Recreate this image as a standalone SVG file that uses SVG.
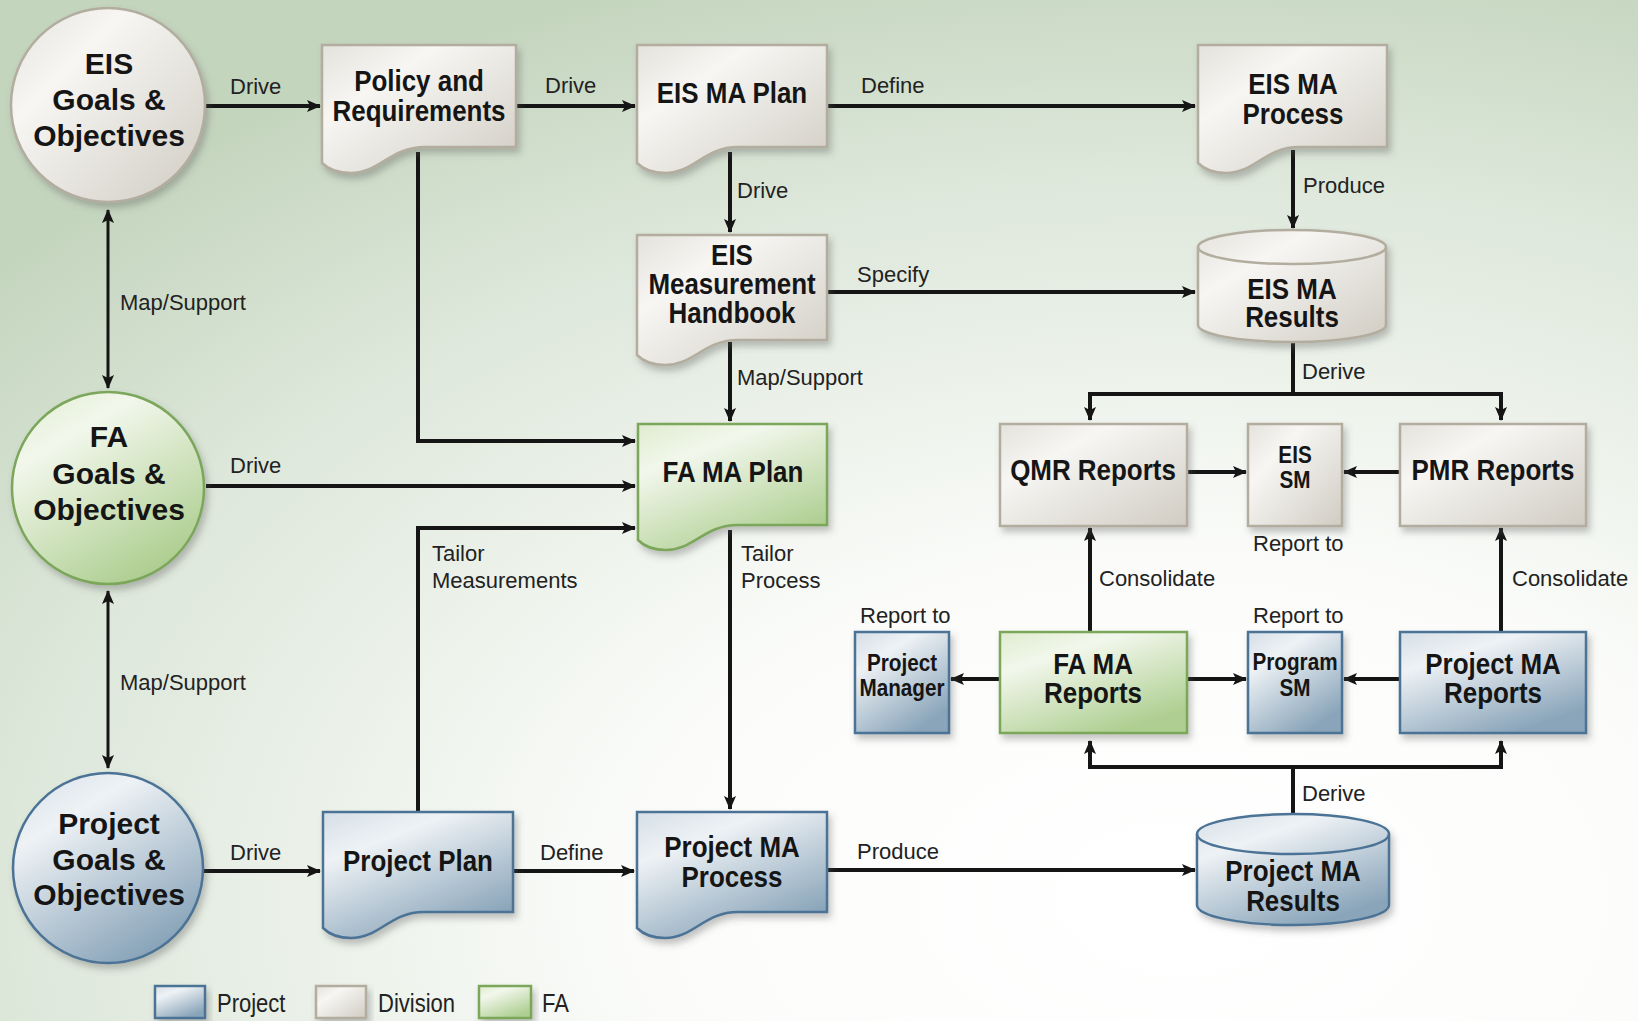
<svg xmlns="http://www.w3.org/2000/svg" width="1638" height="1021" viewBox="0 0 1638 1021">
<defs>
  <radialGradient id="bg" cx="0.72" cy="0.88" r="0.95">
    <stop offset="0" stop-color="#ffffff"/>
    <stop offset="0.35" stop-color="#fbfcfa"/>
    <stop offset="0.75" stop-color="#dde7da"/>
    <stop offset="1" stop-color="#c4d5be"/>
  </radialGradient>
  <linearGradient id="gDiv" x1="0" y1="0" x2="1" y2="1">
    <stop offset="0" stop-color="#e4e2dc"/>
    <stop offset="0.3" stop-color="#f7f6f3"/>
    <stop offset="1" stop-color="#d0ccc3"/>
  </linearGradient>
  <linearGradient id="gProj" x1="0" y1="0" x2="0.6" y2="1">
    <stop offset="0" stop-color="#d5dfe7"/>
    <stop offset="0.3" stop-color="#eef2f5"/>
    <stop offset="1" stop-color="#8aa5ba"/>
  </linearGradient>
  <linearGradient id="gFA" x1="0" y1="0" x2="0.6" y2="1">
    <stop offset="0" stop-color="#dfeccf"/>
    <stop offset="0.3" stop-color="#f2f7ec"/>
    <stop offset="1" stop-color="#afcf92"/>
  </linearGradient>
  <filter id="sh" x="-10%" y="-10%" width="125%" height="130%">
    <feDropShadow dx="3" dy="5" stdDeviation="3.5" flood-color="#555" flood-opacity="0.35"/>
  </filter>
  <marker id="ah" viewBox="0 0 14 12" refX="13" refY="6" markerWidth="14" markerHeight="12" markerUnits="userSpaceOnUse" orient="auto-start-reverse">
    <path d="M0,0 L14,6 L0,12 L3,6 Z" fill="#151515"/>
  </marker>
</defs>
<style>
  .div{fill:url(#gDiv);stroke:#b3ad9f;stroke-width:2.5;filter:url(#sh)}
  .proj{fill:url(#gProj);stroke:#4c7396;stroke-width:2.5;filter:url(#sh)}
  .fa{fill:url(#gFA);stroke:#7ba65a;stroke-width:2.5;filter:url(#sh)}
  .cap{fill:none;stroke-width:2.5}
  .t{font-family:"Liberation Sans",Arial,sans-serif;font-weight:bold;font-size:29.5px;fill:#151515;text-anchor:middle}
  .tc{font-family:"Liberation Sans",Arial,sans-serif;font-weight:bold;font-size:30px;fill:#151515;text-anchor:middle}
  .ts{font-family:"Liberation Sans",Arial,sans-serif;font-weight:bold;font-size:23px;fill:#151515;text-anchor:middle}
  .lbl{font-family:"Liberation Sans",Arial,sans-serif;font-size:22px;fill:#222}
  .c{fill:none;stroke:#151515;stroke-width:4}
  .c3{fill:none;stroke:#151515;stroke-width:3}
  .lg{font-family:"Liberation Sans",Arial,sans-serif;font-size:25px;fill:#222}
</style>
<rect x="0" y="0" width="1638" height="1021" fill="url(#bg)"/>

<g id="connectors">
  <path class="c" d="M205,106 H320" marker-end="url(#ah)"/>
  <path class="c" d="M516,106 H635" marker-end="url(#ah)"/>
  <path class="c" d="M827,106 H1195" marker-end="url(#ah)"/>
  <path class="c" d="M730,152 V232" marker-end="url(#ah)"/>
  <path class="c" d="M1293,150 V228" marker-end="url(#ah)"/>
  <path class="c" d="M827,292 H1195" marker-end="url(#ah)"/>
  <path class="c" d="M730,342 V421" marker-end="url(#ah)"/>
  <path class="c" d="M418,152 V441 H635" marker-end="url(#ah)"/>
  <path class="c" d="M206,486 H635" marker-end="url(#ah)"/>
  <path class="c" d="M418,812 V528 H635" marker-end="url(#ah)"/>
  <path class="c" d="M730,530 V809" marker-end="url(#ah)"/>
  <path class="c" d="M202,871 H320" marker-end="url(#ah)"/>
  <path class="c" d="M513,871 H634" marker-end="url(#ah)"/>
  <path class="c" d="M827,870 H1195" marker-end="url(#ah)"/>
  <path class="c" d="M1293,342 V394"/>
  <path class="c" d="M1090,420 V394 H1501 V420" marker-start="url(#ah)" marker-end="url(#ah)"/>
  <path class="c" d="M1187,472 H1246" marker-end="url(#ah)"/>
  <path class="c" d="M1400,472 H1344" marker-end="url(#ah)"/>
  <path class="c" d="M1090,632 V528" marker-end="url(#ah)"/>
  <path class="c" d="M1501,632 V528" marker-end="url(#ah)"/>
  <path class="c" d="M1187,679 H1246" marker-end="url(#ah)"/>
  <path class="c" d="M1400,679 H1344" marker-end="url(#ah)"/>
  <path class="c" d="M1000,679 H951" marker-end="url(#ah)"/>
  <path class="c" d="M1293,814 V767"/>
  <path class="c" d="M1090,741 V767 H1501 V741" marker-start="url(#ah)" marker-end="url(#ah)"/>
  <path class="c3" d="M108,210 V388" marker-start="url(#ah)" marker-end="url(#ah)"/>
  <path class="c3" d="M108,591 V768" marker-start="url(#ah)" marker-end="url(#ah)"/>

  <text class="lbl" x="230" y="94">Drive</text>
  <text class="lbl" x="545" y="93">Drive</text>
  <text class="lbl" x="861" y="93">Define</text>
  <text class="lbl" x="737" y="198">Drive</text>
  <text class="lbl" x="1303" y="193">Produce</text>
  <text class="lbl" x="857" y="282">Specify</text>
  <text class="lbl" x="737" y="385">Map/Support</text>
  <text class="lbl" x="1302" y="379">Derive</text>
  <text class="lbl" x="120" y="310">Map/Support</text>
  <text class="lbl" x="230" y="473">Drive</text>
  <text class="lbl" x="432" y="561">Tailor</text>
  <text class="lbl" x="432" y="588">Measurements</text>
  <text class="lbl" x="741" y="561">Tailor</text>
  <text class="lbl" x="741" y="588">Process</text>
  <text class="lbl" x="1253" y="551">Report to</text>
  <text class="lbl" x="1099" y="586">Consolidate</text>
  <text class="lbl" x="1512" y="586">Consolidate</text>
  <text class="lbl" x="860" y="623">Report to</text>
  <text class="lbl" x="1253" y="623">Report to</text>
  <text class="lbl" x="120" y="690">Map/Support</text>
  <text class="lbl" x="1302" y="801">Derive</text>
  <text class="lbl" x="230" y="860">Drive</text>
  <text class="lbl" x="540" y="860">Define</text>
  <text class="lbl" x="857" y="859">Produce</text>
</g>

<g id="eis-goals">
  <circle class="div" cx="108" cy="105" r="97"/>
  <text class="tc" x="109" y="74">EIS</text>
  <text class="tc" x="109" y="110">Goals &amp;</text>
  <text class="tc" x="109" y="146">Objectives</text>
</g>
<g id="fa-goals">
  <circle class="fa" cx="108" cy="488" r="96"/>
  <text class="tc" x="109" y="447">FA</text>
  <text class="tc" x="109" y="484">Goals &amp;</text>
  <text class="tc" x="109" y="520">Objectives</text>
</g>
<g id="project-goals">
  <circle class="proj" cx="108" cy="868" r="95"/>
  <text class="tc" x="109" y="834">Project</text>
  <text class="tc" x="109" y="870">Goals &amp;</text>
  <text class="tc" x="109" y="905">Objectives</text>
</g>

<g id="policy">
  <path class="div" d="M322,45 H516 V147 H425 C390,147 380,173 351,173 C336,173 328,169 322,163 Z"/>
  <text class="t" transform="matrix(0.88 0 0 1 419 0)" x="0" y="91">Policy and</text>
  <text class="t" transform="matrix(0.88 0 0 1 419 0)" x="0" y="121">Requirements</text>
</g>
<g id="eis-ma-plan">
  <path class="div" d="M637,45 H827 V147 H738 C704,147 694,173 665,173 C651,173 643,169 637,163 Z"/>
  <text class="t" transform="matrix(0.88 0 0 1 732 0)" x="0" y="103">EIS MA Plan</text>
</g>
<g id="eis-ma-process">
  <path class="div" d="M1198,45 H1387 V147 H1299 C1265,147 1255,173 1226,173 C1212,173 1204,169 1198,163 Z"/>
  <text class="t" transform="matrix(0.88 0 0 1 1293 0)" x="0" y="94">EIS MA</text>
  <text class="t" transform="matrix(0.88 0 0 1 1293 0)" x="0" y="124">Process</text>
</g>
<g id="eis-handbook">
  <path class="div" d="M637,235 H827 V340 H738 C704,340 694,365 665,365 C651,365 643,361 637,355 Z"/>
  <text class="t" transform="matrix(0.88 0 0 1 732 0)" x="0" y="265">EIS</text>
  <text class="t" transform="matrix(0.88 0 0 1 732 0)" x="0" y="294">Measurement</text>
  <text class="t" transform="matrix(0.88 0 0 1 732 0)" x="0" y="323">Handbook</text>
</g>
<g id="eis-ma-results">
  <path class="div" d="M1198,247 A94,17 0 0 1 1386,247 V325 A94,17 0 0 1 1198,325 Z"/>
  <path class="cap" stroke="#b3ad9f" d="M1198,247 A94,17 0 0 0 1386,247"/>
  <text class="t" transform="matrix(0.88 0 0 1 1292 0)" x="0" y="299">EIS MA</text>
  <text class="t" transform="matrix(0.88 0 0 1 1292 0)" x="0" y="327">Results</text>
</g>
<g id="fa-ma-plan">
  <path class="fa" d="M638,424 H827 V525 H738 C704,525 694,550 666,550 C652,550 644,546 638,540 Z"/>
  <text class="t" transform="matrix(0.88 0 0 1 733 0)" x="0" y="482">FA MA Plan</text>
</g>
<g id="qmr-reports">
  <rect class="div" x="1000" y="424" width="187" height="102"/>
  <text class="t" transform="matrix(0.88 0 0 1 1093 0)" x="0" y="480">QMR Reports</text>
</g>
<g id="eis-sm">
  <rect class="div" x="1248" y="424" width="94" height="102"/>
  <text class="ts" transform="matrix(0.9 0 0 1 1295 0)" x="0" y="463">EIS</text>
  <text class="ts" transform="matrix(0.9 0 0 1 1295 0)" x="0" y="488">SM</text>
</g>
<g id="pmr-reports">
  <rect class="div" x="1400" y="424" width="186" height="102"/>
  <text class="t" transform="matrix(0.88 0 0 1 1493 0)" x="0" y="480">PMR Reports</text>
</g>
<g id="project-manager">
  <rect class="proj" x="855" y="632" width="94" height="101"/>
  <text class="ts" transform="matrix(0.9 0 0 1 902 0)" x="0" y="671">Project</text>
  <text class="ts" transform="matrix(0.9 0 0 1 902 0)" x="0" y="696">Manager</text>
</g>
<g id="fa-ma-reports">
  <rect class="fa" x="1000" y="632" width="187" height="101"/>
  <text class="t" transform="matrix(0.88 0 0 1 1093 0)" x="0" y="674">FA MA</text>
  <text class="t" transform="matrix(0.88 0 0 1 1093 0)" x="0" y="703">Reports</text>
</g>
<g id="program-sm">
  <rect class="proj" x="1248" y="632" width="94" height="101"/>
  <text class="ts" transform="matrix(0.9 0 0 1 1295 0)" x="0" y="670">Program</text>
  <text class="ts" transform="matrix(0.9 0 0 1 1295 0)" x="0" y="696">SM</text>
</g>
<g id="project-ma-reports">
  <rect class="proj" x="1400" y="632" width="186" height="101"/>
  <text class="t" transform="matrix(0.88 0 0 1 1493 0)" x="0" y="674">Project MA</text>
  <text class="t" transform="matrix(0.88 0 0 1 1493 0)" x="0" y="703">Reports</text>
</g>
<g id="project-plan">
  <path class="proj" d="M323,812 H513 V912 H424 C390,912 380,938 351,938 C337,938 329,934 323,928 Z"/>
  <text class="t" transform="matrix(0.88 0 0 1 418 0)" x="0" y="871">Project Plan</text>
</g>
<g id="project-ma-process">
  <path class="proj" d="M637,812 H827 V912 H738 C704,912 694,938 665,938 C651,938 643,934 637,928 Z"/>
  <text class="t" transform="matrix(0.88 0 0 1 732 0)" x="0" y="857">Project MA</text>
  <text class="t" transform="matrix(0.88 0 0 1 732 0)" x="0" y="887">Process</text>
</g>
<g id="project-ma-results">
  <path class="proj" d="M1197,834 A96,20 0 0 1 1389,834 V905 A96,20 0 0 1 1197,905 Z"/>
  <path class="cap" stroke="#4c7396" d="M1197,834 A96,20 0 0 0 1389,834"/>
  <text class="t" transform="matrix(0.88 0 0 1 1293 0)" x="0" y="881">Project MA</text>
  <text class="t" transform="matrix(0.88 0 0 1 1293 0)" x="0" y="911">Results</text>
</g>

<g id="legend">
  <rect class="proj" x="155" y="986" width="50" height="32"/>
  <text class="lg" transform="matrix(0.88 0 0 1 217 0)" x="0" y="1012">Project</text>
  <rect class="div" x="316" y="986" width="50" height="32"/>
  <text class="lg" transform="matrix(0.88 0 0 1 378 0)" x="0" y="1012">Division</text>
  <rect class="fa" x="479" y="986" width="52" height="32"/>
  <text class="lg" transform="matrix(0.88 0 0 1 542 0)" x="0" y="1012">FA</text>
</g>
</svg>
